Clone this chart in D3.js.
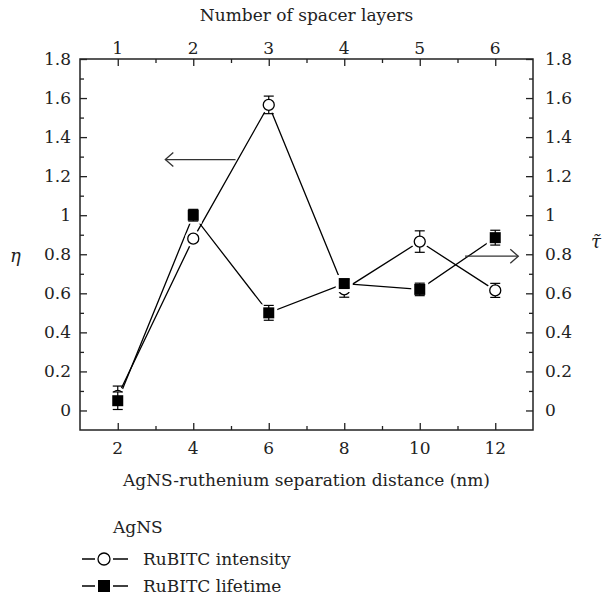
<!DOCTYPE html>
<html>
<head>
<meta charset="utf-8">
<script src="https://cdn.jsdelivr.net/npm/d3@7"></script>
<style>
  body { margin: 0; background: #fff; }
</style>
</head>
<body>
<svg id="chart" width="609" height="600"></svg>
<script>
// data
const distance = [2, 4, 6, 8, 10, 12];
const layers = [1, 2, 3, 4, 5, 6];
const intensity = [0.075, 0.88, 1.565, 0.62, 0.865, 0.615];
const intensityErr = [0.05, 0.015, 0.045, 0.04, 0.055, 0.036];
const lifetime = [0.05, 1.0, 0.5, 0.65, 0.62, 0.885];
const lifetimeErr = [0.045, 0.03, 0.038, 0.02, 0.032, 0.038];
const yTicks = [0, 0.2, 0.4, 0.6, 0.8, 1, 1.2, 1.4, 1.6, 1.8];
const legendLabels = ["RuBITC intensity", "RuBITC lifetime"];

const FONT = "'DejaVu Serif', 'Liberation Serif', serif";
const FS = 17;

const svg = d3.select("#chart").attr("font-family", FONT);
const pLeft = 80, pRight = 533, pTop = 59, pBottom = 430;
const ink = "#222";

const x = d3.scaleLinear().domain([1, 13]).range([pLeft, pRight]);
const y = d3.scaleLinear().domain([-0.1, 1.8]).range([pBottom, pTop]);
// top axis: layer n sits at 2n nm
const xTop = d3.scaleLinear().domain([0.5, 6.5]).range([pLeft, pRight]);

const fmt = (d) => (d === 0 || d === 1 ? String(d) : d3.format(".1f")(d));

function label(sel) {
  return sel.attr("font-family", FONT).attr("font-size", FS).attr("fill", ink);
}

// frame
svg.append("rect")
  .attr("x", pLeft).attr("y", pTop)
  .attr("width", pRight - pLeft).attr("height", pBottom - pTop)
  .attr("fill", "none").attr("stroke", ink).attr("stroke-width", 1.5);

// bottom axis (ticks inward)
const gBottom = svg.append("g").attr("transform", `translate(0,${pBottom})`);
gBottom.call(d3.axisTop(x).tickValues(d3.range(3, 13, 2)).tickSize(4).tickFormat(""));
gBottom.select(".domain").remove();
const gBottomMajor = svg.append("g").attr("transform", `translate(0,${pBottom})`);
gBottomMajor.call(d3.axisTop(x).tickValues(distance).tickSize(7).tickFormat(""));
gBottomMajor.select(".domain").remove();
svg.append("g").selectAll("text").data(distance).join("text")
  .attr("x", (d) => x(d)).attr("y", pBottom + 24)
  .attr("text-anchor", "middle")
  .call(label)
  .text((d) => d);

// top axis (ticks inward)
const gTop = svg.append("g").attr("transform", `translate(0,${pTop})`);
gTop.call(d3.axisBottom(xTop).tickValues(d3.range(1.5, 6.5, 1)).tickSize(4).tickFormat(""));
gTop.select(".domain").remove();
const gTopMajor = svg.append("g").attr("transform", `translate(0,${pTop})`);
gTopMajor.call(d3.axisBottom(xTop).tickValues(layers).tickSize(7).tickFormat(""));
gTopMajor.select(".domain").remove();
svg.append("g").selectAll("text").data(layers).join("text")
  .attr("x", (d) => xTop(d)).attr("y", pTop - 5)
  .attr("text-anchor", "middle")
  .call(label)
  .text((d) => d);

// left & right axes
const minorY = d3.range(0.1, 1.8, 0.2);
[[pLeft, d3.axisRight, -1, 9], [pRight, d3.axisLeft, 1, 12]].forEach(([px, axisFn, side, gap]) => {
  const gMinor = svg.append("g").attr("transform", `translate(${px},0)`);
  gMinor.call(axisFn(y).tickValues(minorY).tickSize(4).tickFormat(""));
  gMinor.select(".domain").remove();
  const gMajor = svg.append("g").attr("transform", `translate(${px},0)`);
  gMajor.call(axisFn(y).tickValues(yTicks).tickSize(7).tickFormat(""));
  gMajor.select(".domain").remove();
  svg.append("g").selectAll("text").data(yTicks).join("text")
    .attr("x", px + side * gap)
    .attr("y", (d) => y(d))
    .attr("dy", "0.35em")
    .attr("text-anchor", side < 0 ? "end" : "start")
    .call(label)
    .text(fmt);
});
svg.selectAll(".tick line").attr("stroke", ink).attr("stroke-width", 1.3);

// axis titles
svg.append("text")
  .attr("x", (pLeft + pRight) / 2).attr("y", 21)
  .attr("text-anchor", "middle").call(label)
  .text("Number of spacer layers");
svg.append("text")
  .attr("x", (pLeft + pRight) / 2).attr("y", 486)
  .attr("text-anchor", "middle").call(label)
  .text("AgNS-ruthenium separation distance (nm)");
svg.append("text")
  .attr("x", 10).attr("y", 262)
  .call(label).attr("font-size", 18).attr("font-style", "italic")
  .text("η");
// tau with combining tilde
svg.append("text")
  .attr("x", 591).attr("y", 248)
  .call(label).attr("font-size", 18).attr("font-style", "italic")
  .text("τ\u0303");

// series
const series = [
  { vals: intensity, err: intensityErr, shape: "circle" },
  { vals: lifetime, err: lifetimeErr, shape: "square" },
];
const pts = (s) => distance.map((d, i) => ({ x: d, v: s.vals[i], e: s.err[i], shape: s.shape }));

const line = d3.line().x((d) => x(d.x)).y((d) => y(d.v));
series.forEach((s) => {
  svg.append("path").datum(pts(s))
    .attr("fill", "none").attr("stroke", "#000").attr("stroke-width", 1.3)
    .attr("d", line);
});

// arrows pointing at each axis
const arrows = [
  { from: [5.12, 1.285], to: [3.26, 1.285] },
  { from: [11.2, 0.79], to: [12.61, 0.79] },
];
arrows.forEach((a) => {
  const x1 = x(a.from[0]), x2 = x(a.to[0]), yy = y(a.from[1]);
  const dir = Math.sign(x2 - x1);
  svg.append("line").attr("x1", x1).attr("x2", x2).attr("y1", yy).attr("y2", yy)
    .attr("stroke", "#333").attr("stroke-width", 1.3);
  svg.append("path")
    .attr("d", `M${x2 - dir * 8},${yy - 7}L${x2},${yy}L${x2 - dir * 8},${yy + 7}`)
    .attr("fill", "none").attr("stroke", "#333").attr("stroke-width", 1.3);
});

const r = 5.5, sq = 11;
function drawSeries(s) {
  const data = pts(s);
  const g = svg.append("g");
  // white halo so the lines stop short of the markers
  g.selectAll(".halo").data(data).join(s.shape === "circle" ? "circle" : "rect")
    .attr("fill", "#fff")
    .each(function (d) {
      const el = d3.select(this);
      if (s.shape === "circle") el.attr("cx", x(d.x)).attr("cy", y(d.v)).attr("r", r + 3);
      else el.attr("x", x(d.x) - sq / 2 - 3).attr("y", y(d.v) - sq / 2 - 3)
        .attr("width", sq + 6).attr("height", sq + 6);
    });
  // error bars
  const eb = g.selectAll(".eb").data(data).join("g").attr("stroke", "#000").attr("stroke-width", 1.2);
  eb.append("line").attr("x1", (d) => x(d.x)).attr("x2", (d) => x(d.x))
    .attr("y1", (d) => y(d.v - d.e)).attr("y2", (d) => y(d.v + d.e));
  [-1, 1].forEach((k) => {
    eb.append("line").attr("x1", (d) => x(d.x) - 5).attr("x2", (d) => x(d.x) + 5)
      .attr("y1", (d) => y(d.v + k * d.e)).attr("y2", (d) => y(d.v + k * d.e));
  });
  // markers
  if (s.shape === "circle") {
    g.selectAll(".m").data(data).join("circle")
      .attr("cx", (d) => x(d.x)).attr("cy", (d) => y(d.v)).attr("r", r)
      .attr("fill", "#fff").attr("stroke", "#000").attr("stroke-width", 1.3);
  } else {
    g.selectAll(".m").data(data).join("rect")
      .attr("x", (d) => x(d.x) - sq / 2).attr("y", (d) => y(d.v) - sq / 2)
      .attr("width", sq).attr("height", sq).attr("fill", "#000");
  }
}
series.forEach(drawSeries);

// legend
svg.append("text").attr("x", 113).attr("y", 533).call(label).text("AgNS");
const legendY = [559, 586];
legendY.forEach((ly, i) => {
  svg.append("line").attr("x1", 82).attr("x2", 128).attr("y1", ly).attr("y2", ly)
    .attr("stroke", "#000").attr("stroke-width", 1.3);
  svg.append("rect").attr("x", 104 - 9).attr("y", ly - 8)
    .attr("width", 18).attr("height", 16).attr("fill", "#fff");
  if (i === 0) {
    svg.append("circle").attr("cx", 104).attr("cy", ly).attr("r", r + 0.5)
      .attr("fill", "#fff").attr("stroke", "#000").attr("stroke-width", 1.3);
  } else {
    svg.append("rect").attr("x", 104 - sq / 2 - 0.5).attr("y", ly - sq / 2 - 0.5)
      .attr("width", sq + 1).attr("height", sq + 1).attr("fill", "#000");
  }
  svg.append("text").attr("x", 143).attr("y", ly).attr("dy", "0.35em")
    .call(label).text(legendLabels[i]);
});
</script>
</body>
</html>
